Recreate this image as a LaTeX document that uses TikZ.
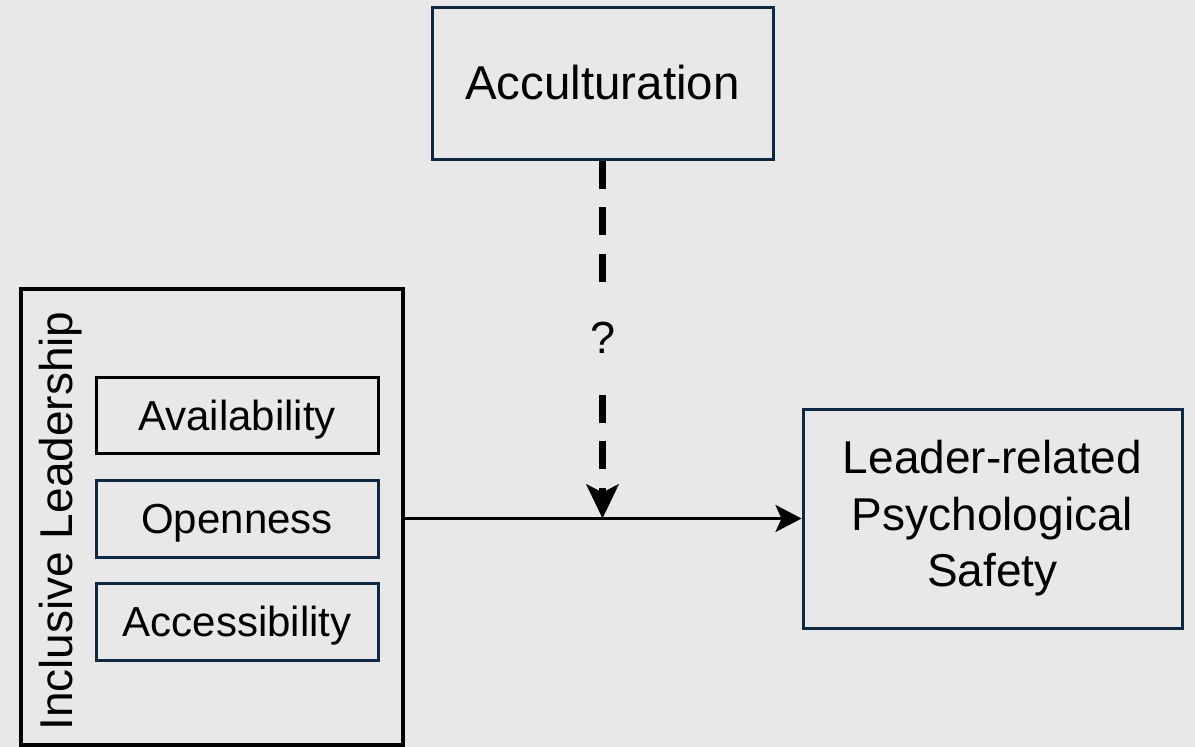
\documentclass[tikz,border=0pt]{standalone}
\usepackage{fontspec}
\setmainfont{Liberation Sans}
\usetikzlibrary{arrows.meta}
\definecolor{bgcol}{HTML}{E8E8E8}
\definecolor{navy}{HTML}{0E2841}
\begin{document}
\begin{tikzpicture}[x=1pt,y=-1pt,
  box/.style={draw=navy,line width=3pt,rectangle,inner sep=0pt,align=center},
  subbox/.style={box,minimum width=282pt,minimum height=76pt,text height=30pt,text depth=0pt,font=\fontsize{42}{48}\selectfont},
  big/.style={font=\fontsize{46}{56.5}\selectfont},
  link/.style={line width=3pt,-{Stealth[length=26pt,width=27pt,inset=6pt]}},
  mod/.style={line width=6.5pt,dash pattern=on 28pt off 18.8pt,-{Stealth[length=34pt,width=32pt,inset=8pt]}}]
\fill[bgcol] (0,0) rectangle (1195,747);
\useasboundingbox (0,0) rectangle (1195,747);

% moderator
\node[box,big,minimum width=341pt,minimum height=152pt,font=\fontsize{47.5}{56}\selectfont] (acc) at (602.5,83) {Acculturation};

% predictor block with its three facets
\node[box,draw=black,line width=4pt,minimum width=382pt,minimum height=456pt] (il) at (212,517) {};
\node[rotate=90,anchor=base,inner sep=0pt,font=\fontsize{46}{56}\selectfont] (iltxt) at (72,521) {Inclusive Leadership};
\node[subbox,draw=black] (avail) at (237,415) {Availability};
\node[subbox,minimum height=77pt] (open) at (237,518.5) {Openness};
\node[subbox,minimum height=77pt] (access) at (237,621.5) {Accessibility};

% outcome
\node[box,big,minimum width=379pt,minimum height=219pt] (out) at (992.5,518.5) {Leader-related\\Psychological\\Safety};

% main path and moderation
\draw[link] (il.east |- out.west) -- (out.west);
\coordinate (mid) at (acc.south |- out.west);
\draw[mod] (acc.south) -- (mid);
\node[fill=bgcol,inner sep=0pt,minimum width=30pt,minimum height=100pt,font=\fontsize{45}{50}\selectfont] (q) at (603,338) {?};
\end{tikzpicture}
\end{document}
